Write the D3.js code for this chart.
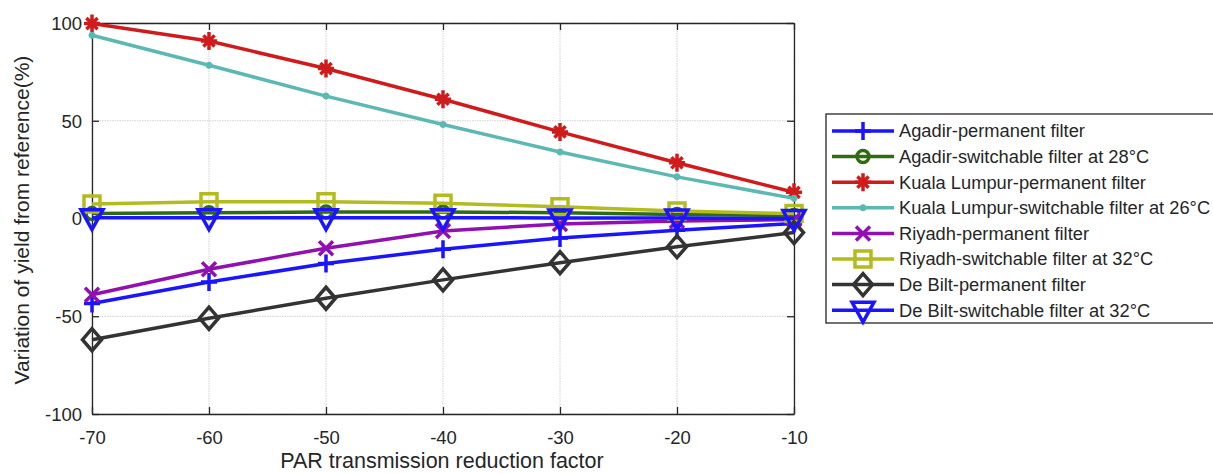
<!DOCTYPE html>
<html>
<head>
<meta charset="utf-8">
<script src="https://cdn.jsdelivr.net/npm/d3@7"></script>
<style>
  body { margin: 0; background: #fff; }
  text { font-family: "Liberation Sans", Arial, sans-serif; fill: #262626; }
</style>
</head>
<body>
<div id="chart"></div>
<script>
(function(d3) {
  'use strict';

  // x categories (PAR transmission reduction factor)
  var factors = [-70, -60, -50, -40, -30, -20, -10];
  var xTicks = [-70, -60, -50, -40, -30, -20, -10];
  var yTicks = [-100, -50, 0, 50, 100];

  // series values (%)
  var agadirPermanent   = [-43.5, -32.5, -23, -15.7, -10, -6, -2.5];
  var agadirSwitchable  = [2.5, 3, 3.3, 3.3, 3, 2, 1.5];
  var klPermanent       = [99.7, 90.8, 76.7, 61, 44.3, 28.5, 13.4];
  var klSwitchable      = [93.7, 78.4, 62.6, 48.1, 34, 21.3, 10.3];
  var riyadhPermanent   = [-39, -26, -15.2, -6.4, -2.8, -1.3, -0.5];
  var riyadhSwitchable  = [7.4, 8.6, 8.6, 7.8, 6, 3.8, 2.5];
  var deBiltPermanent   = [-62, -51, -40.8, -31.4, -22.6, -14.4, -7.2];
  var deBiltSwitchable  = [0.4, 0.4, 0.4, 0.4, 0.3, 0.2, 0];

  var seriesNames = [
    'Agadir-permanent filter',
    'Agadir-switchable filter at 28°C',
    'Kuala Lumpur-permanent filter',
    'Kuala Lumpur-switchable filter at 26°C',
    'Riyadh-permanent filter',
    'Riyadh-switchable filter at 32°C',
    'De Bilt-permanent filter',
    'De Bilt-switchable filter at 32°C'
  ];
  var seriesValues = [agadirPermanent, agadirSwitchable, klPermanent, klSwitchable,
                      riyadhPermanent, riyadhSwitchable, deBiltPermanent, deBiltSwitchable];
  var colors  = ['#1a14ff', '#2f6b12', '#cf1b1b', '#5cb8b3', '#9010b0', '#b3bb1f', '#333333', '#1a14ff'];
  var markers = ['plus', 'circle', 'asterisk', 'point', 'cross', 'square', 'diamond', 'triangle'];

  var width = 1213, height = 474;
  var plot = {left: 92, right: 794, top: 23, bottom: 414};

  var x = d3.scaleLinear().domain([-70, -10]).range([plot.left, plot.right]);
  var y = d3.scaleLinear().domain([-100, 100]).range([plot.bottom, plot.top]);
  var plain = function(d) { return String(d); }; // hyphen minus, like the original

  var svg = d3.select('#chart').append('svg')
    .attr('width', width)
    .attr('height', height);

  // grid
  var grid = svg.append('g');
  grid.selectAll('.gx').data(xTicks).enter().append('line')
    .attr('x1', function(d) { return x(d); }).attr('x2', function(d) { return x(d); })
    .attr('y1', plot.top).attr('y2', plot.bottom)
    .attr('stroke', '#d0d0d0').attr('stroke-width', 1).attr('stroke-dasharray', '1.5,1');
  grid.selectAll('.gy').data(yTicks).enter().append('line')
    .attr('y1', function(d) { return y(d); }).attr('y2', function(d) { return y(d); })
    .attr('x1', plot.left).attr('x2', plot.right)
    .attr('stroke', '#d0d0d0').attr('stroke-width', 1).attr('stroke-dasharray', '1.5,1');

  // axes (ticks inward, box)
  var fontSize = 18.5;
  svg.append('g')
    .attr('transform', 'translate(0,' + plot.bottom + ')')
    .call(d3.axisBottom(x).tickValues(xTicks).tickFormat(plain).tickSize(-7).tickPadding(17).tickSizeOuter(0));
  var yAxis = svg.append('g')
    .attr('transform', 'translate(' + plot.left + ',0)')
    .call(d3.axisLeft(y).tickValues(yTicks).tickFormat(plain).tickSize(-7).tickPadding(10).tickSizeOuter(0));
  svg.append('g')
    .attr('transform', 'translate(0,' + plot.top + ')')
    .call(d3.axisTop(x).tickValues(xTicks).tickSize(-7).tickFormat('').tickSizeOuter(0));
  svg.append('g')
    .attr('transform', 'translate(' + plot.right + ',0)')
    .call(d3.axisRight(y).tickValues(yTicks).tickSize(-7).tickFormat('').tickSizeOuter(0));
  svg.selectAll('.domain').attr('stroke', '#262626').attr('stroke-width', 1.3);
  svg.selectAll('.tick line').attr('stroke', '#262626').attr('stroke-width', 1.3);
  svg.selectAll('.tick text')
    .style('font-family', '"Liberation Sans", Arial, sans-serif')
    .style('font-size', fontSize + 'px').attr('fill', '#262626');
  yAxis.selectAll('.tick text').attr('dy', '0.35em');

  // axis labels
  svg.append('text')
    .attr('x', 442)
    .attr('y', 468)
    .attr('text-anchor', 'middle')
    .style('font-size', '21.5px')
    .text('PAR transmission reduction factor');
  svg.append('text')
    .attr('transform', 'translate(29,' + 220 + ') rotate(-90)')
    .attr('text-anchor', 'middle')
    .style('font-size', '21px')
    .text('Variation of yield from reference(%)');

  // marker shapes
  function markerPath(type) {
    var s = 8;
    switch (type) {
      case 'plus': return 'M' + (-s) + ',0H' + s + 'M0,' + (-s - 1) + 'V' + (s + 1);
      case 'circle': return d3.symbol().type(d3.symbolCircle).size(Math.PI * 36)();
      case 'asterisk':
        var a = s * 0.7, p = 'M' + (-s) + ',0H' + s + 'M0,' + (-s - 1) + 'V' + (s + 1);
        p += 'M' + (-a) + ',' + (-a) + 'L' + a + ',' + a;
        p += 'M' + (-a) + ',' + a + 'L' + a + ',' + (-a);
        return p;
      case 'point': return d3.symbol().type(d3.symbolCircle).size(10)();
      case 'cross': return 'M-7,-7L7,7M-7,7L7,-7';
      case 'square': return 'M-8,-8H8V8H-8Z';
      case 'diamond': return 'M0,-11L9.5,0L0,11L-9.5,0Z';
      case 'triangle': return 'M-11,-8H11L0,12Z';
    }
  }

  var line = d3.line()
    .x(function(d, i) { return x(factors[i]); })
    .y(function(d) { return y(d); });

  seriesValues.forEach(function(vals, k) {
    var g = svg.append('g');
    g.append('path')
      .attr('d', line(vals))
      .attr('fill', 'none')
      .attr('stroke', colors[k])
      .attr('stroke-width', 3.5)
      .attr('stroke-linejoin', 'round');
    g.selectAll('.m').data(vals).enter().append('path')
      .attr('transform', function(d, i) { return 'translate(' + x(factors[i]) + ',' + y(d) + ')'; })
      .attr('d', markerPath(markers[k]))
      .attr('fill', markers[k] === 'point' ? colors[k] : 'none')
      .attr('stroke', colors[k])
      .attr('stroke-width', 3.5);
  });

  // legend
  var legend = svg.append('g');
  var lg = {left: 826, top: 114, bottom: 323, rowH: 25.6, firstY: 131};
  legend.append('rect')
    .attr('x', lg.left).attr('y', lg.top)
    .attr('width', width - lg.left + 5).attr('height', lg.bottom - lg.top)
    .attr('fill', '#fff').attr('stroke', '#262626').attr('stroke-width', 1.3);
  seriesNames.forEach(function(name, k) {
    var cy = lg.firstY + k * lg.rowH;
    var item = legend.append('g');
    item.append('line')
      .attr('x1', 832).attr('x2', 894).attr('y1', cy).attr('y2', cy)
      .attr('stroke', colors[k]).attr('stroke-width', 3.5);
    item.append('path')
      .attr('transform', 'translate(863,' + cy + ')')
      .attr('d', markerPath(markers[k]))
      .attr('fill', markers[k] === 'point' ? colors[k] : 'none')
      .attr('stroke', colors[k]).attr('stroke-width', 3.5);
    item.append('text')
      .attr('x', 899).attr('y', cy).attr('dy', '0.35em')
      .style('font-size', '18.3px')
      .text(name);
  });
})(window.d3);
</script>
</body>
</html>
